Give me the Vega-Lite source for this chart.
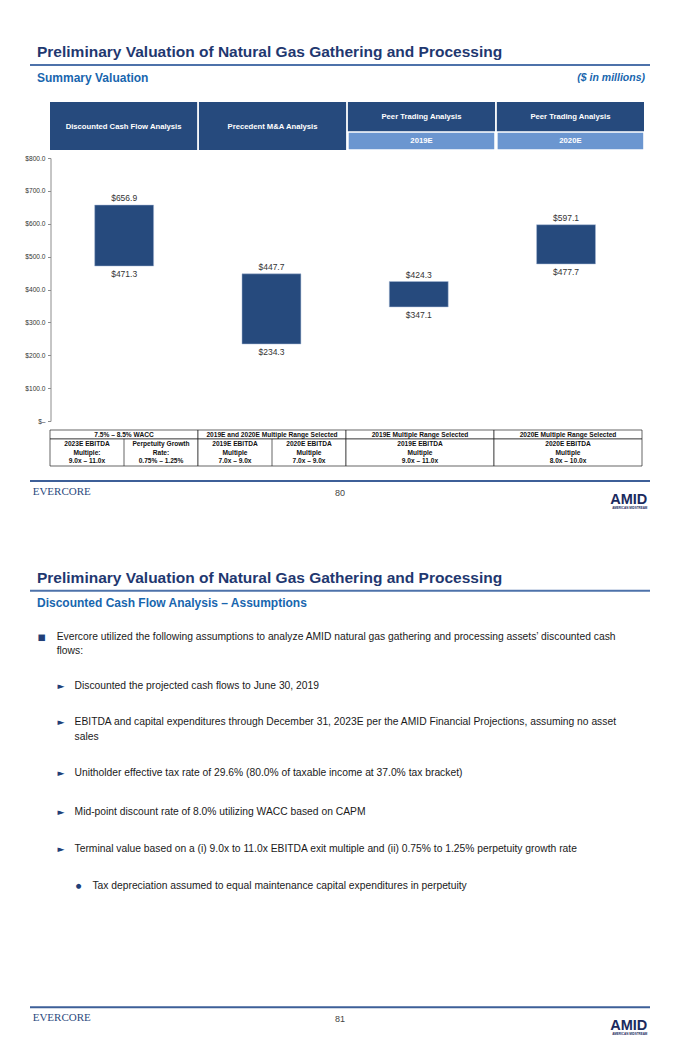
{
  "$schema": "https://vega.github.io/schema/vega-lite/v6.json",
  "padding": {"left": 24, "top": 0, "right": 30, "bottom": 0},
  "background": "white",
  "spacing": 0,
  "bounds": "flush",
  "config": {"view": {"stroke": null}, "font": "Liberation Sans", "text": {"font": "Liberation Sans"}},
  "datasets": {
    "header": [
      {"col": "dcf", "label": "Discounted Cash Flow Analysis", "tier": "span"},
      {"col": "ma", "label": "Precedent M&A Analysis", "tier": "span"},
      {"col": "peer19", "label": "Peer Trading Analysis", "tier": "head", "year": "2019E"},
      {"col": "peer20", "label": "Peer Trading Analysis", "tier": "head", "year": "2020E"}
    ],
    "ranges": [
      {"col": "dcf", "low": 471.3, "high": 656.9},
      {"col": "ma", "low": 234.3, "high": 447.7},
      {"col": "peer19", "low": 347.1, "high": 424.3},
      {"col": "peer20", "low": 477.7, "high": 597.1}
    ],
    "tableHead": [
      {"col": "dcf", "label": "7.5% – 8.5% WACC"},
      {"col": "ma", "label": "2019E and 2020E Multiple Range Selected"},
      {"col": "peer19", "label": "2019E Multiple Range Selected"},
      {"col": "peer20", "label": "2020E Multiple Range Selected"}
    ],
    "tableBody": [
      {"col": "dcf", "sub": "a", "cell": "dcf-a", "lines": ["2023E EBITDA", "Multiple:", "9.0x – 11.0x"]},
      {"col": "dcf", "sub": "b", "cell": "dcf-b", "lines": ["Perpetuity Growth", "Rate:", "0.75% – 1.25%"]},
      {"col": "ma", "sub": "a", "cell": "ma-a", "lines": ["2019E EBITDA", "Multiple", "7.0x – 9.0x"]},
      {"col": "ma", "sub": "b", "cell": "ma-b", "lines": ["2020E EBITDA", "Multiple", "7.0x – 9.0x"]},
      {"col": "peer19", "sub": "all", "cell": "peer19", "lines": ["2019E EBITDA", "Multiple", "9.0x – 11.0x"]},
      {"col": "peer20", "sub": "all", "cell": "peer20", "lines": ["2020E EBITDA", "Multiple", "8.0x – 10.0x"]}
    ],
    "bullets": [
      {"id": 1, "level": 1, "text": ["Evercore utilized the following assumptions to analyze AMID natural gas gathering and processing assets’ discounted cash", "flows:"]},
      {"id": 2, "level": 2, "text": ["Discounted the projected cash flows to June 30, 2019"]},
      {"id": 3, "level": 2, "text": ["EBITDA and capital expenditures through December 31, 2023E per the AMID Financial Projections, assuming no asset", "sales"]},
      {"id": 4, "level": 2, "text": ["Unitholder effective tax rate of 29.6% (80.0% of taxable income at 37.0% tax bracket)"]},
      {"id": 5, "level": 2, "text": ["Mid-point discount rate of 8.0% utilizing WACC based on CAPM"]},
      {"id": 6, "level": 2, "text": ["Terminal value based on a (i) 9.0x to 11.0x EBITDA exit multiple and (ii) 0.75% to 1.25% perpetuity growth rate"]},
      {"id": 7, "level": 3, "text": ["Tax depreciation assumed to equal maintenance capital expenditures in perpetuity"]}
    ]
  },
  "vconcat": [
    {
      "width": 620, "height": 102,
      "data": {"values": [
        {"role": "title", "text": "Preliminary Valuation of Natural Gas Gathering and Processing"},
        {"role": "sub", "text": "Summary Valuation"},
        {"role": "units", "text": "($ in millions)"}
      ]},
      "layer": [
        {"transform": [{"filter": "datum.role === 'title'"}],
         "mark": {"type": "rule", "color": "#4d72aa", "strokeWidth": 2},
         "encoding": {"y": {"datum": "rule", "type": "nominal", "scale": {"type": "point", "domain": ["title", "rule", "sub"], "range": [51.7, 78.3], "padding": 0}, "axis": null}}},
        {"transform": [{"filter": "datum.role === 'title'"}],
         "mark": {"type": "text", "align": "left", "baseline": "middle", "fontSize": 15.5, "fontWeight": "bold", "color": "#1f3870"},
         "encoding": {
           "x": {"datum": "left", "type": "nominal", "scale": {"type": "point", "domain": ["left", "right"], "range": [7, 615], "padding": 0}, "axis": null},
           "y": {"datum": "title", "type": "nominal", "scale": {"type": "point", "domain": ["title", "rule", "sub"], "range": [51.7, 78.3], "padding": 0}, "axis": null},
           "text": {"field": "text"}}},
        {"transform": [{"filter": "datum.role === 'sub'"}],
         "mark": {"type": "text", "align": "left", "baseline": "middle", "fontSize": 12, "fontWeight": "bold", "color": "#1866ae"},
         "encoding": {
           "x": {"datum": "left", "type": "nominal", "scale": {"type": "point", "domain": ["left", "right"], "range": [7, 615], "padding": 0}, "axis": null},
           "y": {"datum": "sub", "type": "nominal", "scale": {"type": "point", "domain": ["title", "rule", "sub"], "range": [51.7, 78.3], "padding": 0}, "axis": null},
           "text": {"field": "text"}}},
        {"transform": [{"filter": "datum.role === 'units'"}],
         "mark": {"type": "text", "align": "right", "baseline": "middle", "fontSize": 10.5, "fontWeight": "bold", "fontStyle": "italic", "color": "#1866ae"},
         "encoding": {
           "x": {"datum": "right", "type": "nominal", "scale": {"type": "point", "domain": ["left", "right"], "range": [7, 615], "padding": 0}, "axis": null},
           "y": {"datum": "sub", "type": "nominal", "scale": {"type": "point", "domain": ["title", "rule", "sub"], "range": [51.7, 78.3], "padding": 0}, "axis": null},
           "text": {"field": "text"}}}
      ]
    },
    {
      "width": 620, "height": 30,
      "data": {"name": "header"},
      "encoding": {"x": {"field": "col", "type": "nominal", "scale": {"type": "band", "domain": ["dcf", "ma", "peer19", "peer20"], "range": [20, 614], "paddingInner": 0.012, "paddingOuter": 0}, "axis": null}},
      "layer": [
        {"mark": {"type": "rect", "color": "#264a7d", "width": {"band": 1}}},
        {"mark": {"type": "text", "color": "white", "fontWeight": "bold", "fontSize": 7.7, "baseline": "middle"},
         "encoding": {
           "y": {"field": "tier", "type": "nominal", "scale": {"type": "point", "domain": ["head", "span"], "range": [15, 24.7], "padding": 0}, "axis": null},
           "text": {"field": "label"}}}
      ]
    },
    {
      "width": 620, "height": 18,
      "data": {"name": "header"},
      "encoding": {"x": {"field": "col", "type": "nominal", "scale": {"type": "band", "domain": ["dcf", "ma", "peer19", "peer20"], "range": [20, 614], "paddingInner": 0.012, "paddingOuter": 0}, "axis": null}},
      "layer": [
        {"transform": [{"filter": "!datum.year"}], "mark": {"type": "rect", "color": "#264a7d", "width": {"band": 1}}},
        {"transform": [{"filter": "datum.year"}], "mark": {"type": "rect", "fill": "#6b96d0", "stroke": "white", "strokeWidth": 1.6, "width": {"band": 1}}},
        {"transform": [{"filter": "datum.year"}],
         "mark": {"type": "text", "color": "white", "fontWeight": "bold", "fontSize": 7.7, "baseline": "middle"},
         "encoding": {"text": {"field": "year"}}}
      ]
    },
    {
      "width": 620, "height": 280,
      "data": {"name": "ranges"},
      "encoding": {"x": {"field": "col", "type": "nominal", "scale": {"type": "band", "domain": ["dcf", "ma", "peer19", "peer20"], "range": [20.5, 609.7], "paddingInner": 0.6, "paddingOuter": 0.3}, "axis": null}},
      "layer": [
        {"mark": {"type": "bar", "color": "#264a7d", "stroke": "#a9bbd6", "strokeWidth": 0.5, "width": {"band": 1}},
         "encoding": {
           "y": {"field": "low", "type": "quantitative",
                 "scale": {"domain": [0, 800], "range": [271, 8], "nice": false, "zero": true},
                 "axis": {"values": [0, 100, 200, 300, 400, 500, 600, 700, 800],
                          "labelExpr": "datum.value === 0 ? '$–' : '$' + format(datum.value, '.1f')",
                          "labelOverlap": false, "tickCount": 9,
                          "offset": -20.5, "domainColor": "#8c8c8c", "tickColor": "#8c8c8c", "tickSize": 3,
                          "labelFontSize": 6.6, "labelColor": "#333", "labelPadding": 2.5, "grid": false, "title": null,
                          "labelFont": "Liberation Sans"}},
           "y2": {"field": "high"}}},
        {"mark": {"type": "text", "dy": -7, "fontSize": 8.5, "color": "#333", "baseline": "middle"},
         "encoding": {
           "y": {"field": "high", "type": "quantitative",
                 "scale": {"domain": [0, 800], "range": [271, 8], "nice": false, "zero": true},
                 "axis": {"values": [0, 100, 200, 300, 400, 500, 600, 700, 800],
                          "labelExpr": "datum.value === 0 ? '$–' : '$' + format(datum.value, '.1f')",
                          "labelOverlap": false, "tickCount": 9,
                          "offset": -20.5, "domainColor": "#8c8c8c", "tickColor": "#8c8c8c", "tickSize": 3,
                          "labelFontSize": 6.6, "labelColor": "#333", "labelPadding": 2.5, "grid": false, "title": null,
                          "labelFont": "Liberation Sans"}},
           "text": {"field": "high", "type": "quantitative", "format": "$.1f"}}},
        {"mark": {"type": "text", "dy": 8, "fontSize": 8.5, "color": "#333", "baseline": "middle"},
         "encoding": {
           "y": {"field": "low", "type": "quantitative",
                 "scale": {"domain": [0, 800], "range": [271, 8], "nice": false, "zero": true},
                 "axis": {"values": [0, 100, 200, 300, 400, 500, 600, 700, 800],
                          "labelExpr": "datum.value === 0 ? '$–' : '$' + format(datum.value, '.1f')",
                          "labelOverlap": false, "tickCount": 9,
                          "offset": -20.5, "domainColor": "#8c8c8c", "tickColor": "#8c8c8c", "tickSize": 3,
                          "labelFontSize": 6.6, "labelColor": "#333", "labelPadding": 2.5, "grid": false, "title": null,
                          "labelFont": "Liberation Sans"}},
           "text": {"field": "low", "type": "quantitative", "format": "$.1f"}}}
      ]
    },
    {
      "width": 620, "height": 9,
      "data": {"name": "tableHead"},
      "encoding": {"x": {"field": "col", "type": "nominal", "scale": {"type": "band", "domain": ["dcf", "ma", "peer19", "peer20"], "range": [20, 612], "paddingInner": 0, "paddingOuter": 0}, "axis": null}},
      "layer": [
        {"mark": {"type": "rect", "fill": "white", "stroke": "#222", "strokeWidth": 0.7, "width": {"band": 1}}},
        {"mark": {"type": "text", "fontSize": 6.6, "fontWeight": "bold", "color": "#111", "baseline": "middle"},
         "encoding": {"text": {"field": "label"}}}
      ]
    },
    {
      "width": 620, "height": 27,
      "data": {"name": "tableBody"},
      "resolve": {"scale": {"x": "independent"}},
      "layer": [
        {"transform": [{"filter": "datum.sub !== 'b'"}], "mark": {"type": "rect", "fill": "white", "stroke": "#222", "strokeWidth": 0.7, "width": {"band": 1}},
         "encoding": {"x": {"field": "col", "type": "nominal", "scale": {"type": "band", "domain": ["dcf", "ma", "peer19", "peer20"], "range": [20, 612], "paddingInner": 0, "paddingOuter": 0}, "axis": null}}},
        {"transform": [{"filter": "datum.sub === 'b'"}], "mark": {"type": "rule", "color": "#222", "strokeWidth": 0.7},
         "encoding": {"x": {"field": "col", "type": "nominal", "bandPosition": 0.5, "scale": {"type": "band", "domain": ["dcf", "ma", "peer19", "peer20"], "range": [20, 612], "paddingInner": 0, "paddingOuter": 0}, "axis": null}}},
        {"transform": [{"filter": "datum.sub !== 'all'"}],
         "mark": {"type": "text", "fontSize": 6.6, "fontWeight": "bold", "color": "#111", "baseline": "middle", "lineHeight": 8.5, "dy": -8.5},
         "encoding": {
           "x": {"field": "cell", "type": "nominal", "scale": {"type": "band", "domain": ["dcf-a", "dcf-b", "ma-a", "ma-b"], "range": [20, 316], "paddingInner": 0, "paddingOuter": 0}, "axis": null},
           "text": {"field": "lines"}}},
        {"transform": [{"filter": "datum.sub === 'all'"}],
         "mark": {"type": "text", "fontSize": 6.6, "fontWeight": "bold", "color": "#111", "baseline": "middle", "lineHeight": 8.5, "dy": -8.5},
         "encoding": {
           "x": {"field": "col", "type": "nominal", "scale": {"type": "band", "domain": ["dcf", "ma", "peer19", "peer20"], "range": [20, 612], "paddingInner": 0, "paddingOuter": 0}, "axis": null},
           "text": {"field": "lines"}}}
      ]
    },
    {
      "width": 620, "height": 94,
      "data": {"values": [
        {"role": "brand", "text": "EVERCORE"},
        {"role": "page", "text": "80"},
        {"role": "logo", "text": "AMID"},
        {"role": "logosub", "text": "AMERICAN MIDSTREAM"}
      ]},
      "layer": [
        {"transform": [{"filter": "datum.role === 'brand'"}],
         "mark": {"type": "rule", "color": "#3d5f98", "strokeWidth": 2},
         "encoding": {"y": {"datum": "rule", "type": "nominal", "scale": {"type": "point", "domain": ["rule", "text", "logo"], "range": [15, 34], "padding": 0}, "axis": null}}},
        {"transform": [{"filter": "datum.role === 'brand'"}],
         "mark": {"type": "text", "align": "left", "baseline": "middle", "dy": 1.5, "font": "Liberation Serif", "fontSize": 11, "color": "#2c4a7e"},
         "encoding": {
           "x": {"datum": "left", "type": "nominal", "scale": {"type": "point", "domain": ["left", "center", "right"], "range": [2.7, 617.3], "padding": 0}, "axis": null},
           "y": {"datum": "text", "type": "nominal", "scale": {"type": "point", "domain": ["rule", "text", "logo"], "range": [15, 34], "padding": 0}, "axis": null},
           "text": {"field": "text"}}},
        {"transform": [{"filter": "datum.role === 'page'"}],
         "mark": {"type": "text", "align": "center", "baseline": "middle", "dy": 2, "fontSize": 9, "color": "#444"},
         "encoding": {
           "x": {"datum": "center", "type": "nominal", "scale": {"type": "point", "domain": ["left", "center", "right"], "range": [2.7, 617.3], "padding": 0}, "axis": null},
           "y": {"datum": "text", "type": "nominal", "scale": {"type": "point", "domain": ["rule", "text", "logo"], "range": [15, 34], "padding": 0}, "axis": null},
           "text": {"field": "text"}}},
        {"transform": [{"filter": "datum.role === 'logo'"}],
         "mark": {"type": "text", "align": "right", "baseline": "middle", "fontSize": 14.5, "fontWeight": "bold", "color": "#1b2a5e"},
         "encoding": {
           "x": {"datum": "right", "type": "nominal", "scale": {"type": "point", "domain": ["left", "center", "right"], "range": [2.7, 617.3], "padding": 0}, "axis": null},
           "y": {"datum": "logo", "type": "nominal", "scale": {"type": "point", "domain": ["rule", "text", "logo"], "range": [15, 34], "padding": 0}, "axis": null},
           "text": {"field": "text"}}},
        {"transform": [{"filter": "datum.role === 'logosub'"}],
         "mark": {"type": "text", "align": "right", "baseline": "middle", "dy": 7.5, "fontSize": 3, "fontWeight": "bold", "color": "#1b2a5e"},
         "encoding": {
           "x": {"datum": "right", "type": "nominal", "scale": {"type": "point", "domain": ["left", "center", "right"], "range": [2.7, 617.3], "padding": 0}, "axis": null},
           "y": {"datum": "logo", "type": "nominal", "scale": {"type": "point", "domain": ["rule", "text", "logo"], "range": [15, 34], "padding": 0}, "axis": null},
           "text": {"field": "text"}}}
      ]
    },
    {
      "width": 620, "height": 64,
      "data": {"values": [
        {"role": "title", "text": "Preliminary Valuation of Natural Gas Gathering and Processing"},
        {"role": "sub", "text": "Discounted Cash Flow Analysis – Assumptions"}
      ]},
      "layer": [
        {"transform": [{"filter": "datum.role === 'title'"}],
         "mark": {"type": "rule", "color": "#4d72aa", "strokeWidth": 2},
         "encoding": {"y": {"datum": "rule", "type": "nominal", "scale": {"type": "point", "domain": ["title", "rule", "sub"], "range": [18.3, 43.3], "padding": 0}, "axis": null}}},
        {"transform": [{"filter": "datum.role === 'title'"}],
         "mark": {"type": "text", "align": "left", "baseline": "middle", "fontSize": 15.5, "fontWeight": "bold", "color": "#1f3870"},
         "encoding": {
           "x": {"datum": "left", "type": "nominal", "scale": {"type": "point", "domain": ["left", "right"], "range": [7, 615], "padding": 0}, "axis": null},
           "y": {"datum": "title", "type": "nominal", "scale": {"type": "point", "domain": ["title", "rule", "sub"], "range": [18.3, 43.3], "padding": 0}, "axis": null},
           "text": {"field": "text"}}},
        {"transform": [{"filter": "datum.role === 'sub'"}],
         "mark": {"type": "text", "align": "left", "baseline": "middle", "fontSize": 12, "fontWeight": "bold", "color": "#1866ae"},
         "encoding": {
           "x": {"datum": "left", "type": "nominal", "scale": {"type": "point", "domain": ["left", "right"], "range": [7, 615], "padding": 0}, "axis": null},
           "y": {"datum": "sub", "type": "nominal", "scale": {"type": "point", "domain": ["title", "rule", "sub"], "range": [18.3, 43.3], "padding": 0}, "axis": null},
           "text": {"field": "text"}}}
      ]
    },
    {
      "width": 620, "height": 76,
      "data": {"name": "bullets"},
      "transform": [{"filter": "datum.id <= 2"}],
      "encoding": {
        "x": {"field": "level", "type": "quantitative", "scale": {"domain": [1, 3], "range": [26.7, 62.4]}, "axis": null},
        "y": {"field": "id", "type": "ordinal", "scale": {"type": "point", "domain": [1, 2], "range": [12.7, 62], "padding": 0}, "axis": null}
      },
      "layer": [
        {"mark": {"type": "text", "align": "left", "baseline": "middle", "fontSize": 10.3, "lineHeight": 14.5, "color": "#1a1a1a"}, "encoding": {"text": {"field": "text"}}},
        {"transform": [{"filter": "datum.level === 1"}], "mark": {"type": "text", "text": "■", "font": "DejaVu Sans", "fontSize": 8.5, "align": "center", "baseline": "middle", "dx": -15.3, "color": "#213f78"}},
        {"transform": [{"filter": "datum.level === 2"}], "mark": {"type": "text", "text": "►", "font": "DejaVu Sans", "fontSize": 9, "align": "center", "baseline": "middle", "dx": -13.6, "color": "#213f78"}}
      ]
    },
    {
      "width": 620, "height": 90,
      "data": {"name": "bullets"},
      "transform": [{"filter": "datum.id === 3 || datum.id === 4"}],
      "encoding": {
        "x": {"field": "level", "type": "quantitative", "scale": {"domain": [1, 3], "range": [26.7, 62.4]}, "axis": null},
        "y": {"field": "id", "type": "ordinal", "scale": {"type": "point", "domain": [3, 4], "range": [22.3, 73.3], "padding": 0}, "axis": null}
      },
      "layer": [
        {"mark": {"type": "text", "align": "left", "baseline": "middle", "fontSize": 10.3, "lineHeight": 14.5, "color": "#1a1a1a"}, "encoding": {"text": {"field": "text"}}},
        {"mark": {"type": "text", "text": "►", "font": "DejaVu Sans", "fontSize": 9, "align": "center", "baseline": "middle", "dx": -13.6, "color": "#213f78"}}
      ]
    },
    {
      "width": 620, "height": 70,
      "data": {"name": "bullets"},
      "transform": [{"filter": "datum.id === 5 || datum.id === 6"}],
      "encoding": {
        "x": {"field": "level", "type": "quantitative", "scale": {"domain": [1, 3], "range": [26.7, 62.4]}, "axis": null},
        "y": {"field": "id", "type": "ordinal", "scale": {"type": "point", "domain": [5, 6], "range": [21.7, 59], "padding": 0}, "axis": null}
      },
      "layer": [
        {"mark": {"type": "text", "align": "left", "baseline": "middle", "fontSize": 10.3, "lineHeight": 14.5, "color": "#1a1a1a"}, "encoding": {"text": {"field": "text"}}},
        {"mark": {"type": "text", "text": "►", "font": "DejaVu Sans", "fontSize": 9, "align": "center", "baseline": "middle", "dx": -13.6, "color": "#213f78"}}
      ]
    },
    {
      "width": 620, "height": 51.4,
      "data": {"name": "bullets"},
      "transform": [{"filter": "datum.id === 7"}],
      "encoding": {
        "x": {"field": "level", "type": "quantitative", "scale": {"domain": [1, 3], "range": [26.7, 62.4]}, "axis": null}
      },
      "layer": [
        {"mark": {"type": "text", "align": "left", "baseline": "middle", "fontSize": 10.3, "lineHeight": 14.5, "color": "#1a1a1a"}, "encoding": {"text": {"field": "text"}}},
        {"mark": {"type": "text", "text": "●", "font": "DejaVu Sans", "fontSize": 6.5, "align": "center", "baseline": "middle", "dx": -13.9, "color": "#213f78"}}
      ]
    },
    {
      "width": 620, "height": 139.6,
      "data": {"values": [
        {"role": "brand", "text": "EVERCORE"},
        {"role": "page", "text": "81"},
        {"role": "logo", "text": "AMID"},
        {"role": "logosub", "text": "AMERICAN MIDSTREAM"}
      ]},
      "layer": [
        {"transform": [{"filter": "datum.role === 'brand'"}],
         "mark": {"type": "rule", "color": "#3d5f98", "strokeWidth": 2},
         "encoding": {"y": {"datum": "rule", "type": "nominal", "scale": {"type": "point", "domain": ["rule", "text", "logo"], "range": [95.3, 114.3], "padding": 0}, "axis": null}}},
        {"transform": [{"filter": "datum.role === 'brand'"}],
         "mark": {"type": "text", "align": "left", "baseline": "middle", "dy": 1.5, "font": "Liberation Serif", "fontSize": 11, "color": "#2c4a7e"},
         "encoding": {
           "x": {"datum": "left", "type": "nominal", "scale": {"type": "point", "domain": ["left", "center", "right"], "range": [2.7, 617.3], "padding": 0}, "axis": null},
           "y": {"datum": "text", "type": "nominal", "scale": {"type": "point", "domain": ["rule", "text", "logo"], "range": [95.3, 114.3], "padding": 0}, "axis": null},
           "text": {"field": "text"}}},
        {"transform": [{"filter": "datum.role === 'page'"}],
         "mark": {"type": "text", "align": "center", "baseline": "middle", "dy": 2, "fontSize": 9, "color": "#444"},
         "encoding": {
           "x": {"datum": "center", "type": "nominal", "scale": {"type": "point", "domain": ["left", "center", "right"], "range": [2.7, 617.3], "padding": 0}, "axis": null},
           "y": {"datum": "text", "type": "nominal", "scale": {"type": "point", "domain": ["rule", "text", "logo"], "range": [95.3, 114.3], "padding": 0}, "axis": null},
           "text": {"field": "text"}}},
        {"transform": [{"filter": "datum.role === 'logo'"}],
         "mark": {"type": "text", "align": "right", "baseline": "middle", "fontSize": 14.5, "fontWeight": "bold", "color": "#1b2a5e"},
         "encoding": {
           "x": {"datum": "right", "type": "nominal", "scale": {"type": "point", "domain": ["left", "center", "right"], "range": [2.7, 617.3], "padding": 0}, "axis": null},
           "y": {"datum": "logo", "type": "nominal", "scale": {"type": "point", "domain": ["rule", "text", "logo"], "range": [95.3, 114.3], "padding": 0}, "axis": null},
           "text": {"field": "text"}}},
        {"transform": [{"filter": "datum.role === 'logosub'"}],
         "mark": {"type": "text", "align": "right", "baseline": "middle", "dy": 7.5, "fontSize": 3, "fontWeight": "bold", "color": "#1b2a5e"},
         "encoding": {
           "x": {"datum": "right", "type": "nominal", "scale": {"type": "point", "domain": ["left", "center", "right"], "range": [2.7, 617.3], "padding": 0}, "axis": null},
           "y": {"datum": "logo", "type": "nominal", "scale": {"type": "point", "domain": ["rule", "text", "logo"], "range": [95.3, 114.3], "padding": 0}, "axis": null},
           "text": {"field": "text"}}}
      ]
    }
  ]
}
